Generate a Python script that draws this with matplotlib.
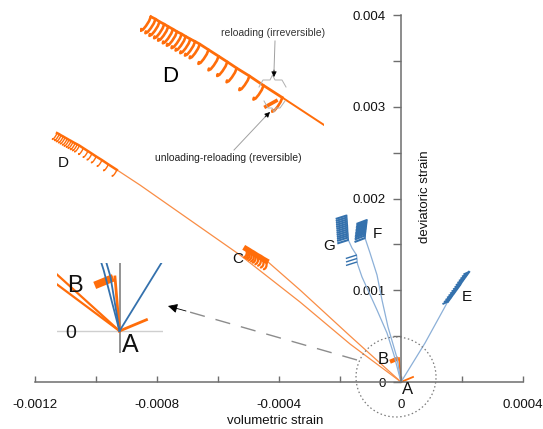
import matplotlib
matplotlib.use('Agg')
import matplotlib.pyplot as plt
from matplotlib.patches import Circle

plt.rcParams['font.family'] = ['Liberation Sans', 'DejaVu Sans']

# ------------------------------------------------------------------
# DATA  (volumetric strain, deviatoric strain)
# ------------------------------------------------------------------
# stress path to D (loading line, then cyclic part)
path_D_x = [0.0, -0.000167, -0.000331, -0.000528, -0.000856, -0.000931]
path_D_y = [0.0, 0.000414, 0.000872, 0.001385, 0.002148, 0.002312]
cycles_D_x = [-0.000932, -0.000960, -0.000981, -0.001000, -0.001014, -0.001027,
              -0.001042, -0.001055, -0.001062, -0.001069, -0.001076, -0.001082,
              -0.001089, -0.001095, -0.001102, -0.001108, -0.001115, -0.001121,
              -0.001128]
cycles_D_y = [0.002314, 0.002374, 0.002421, 0.002460, 0.002491, 0.002519,
              0.002551, 0.002579, 0.002592, 0.002604, 0.002617, 0.002629,
              0.002641, 0.002653, 0.002666, 0.002678, 0.002690, 0.002703,
              0.002715]
reversible_D_x = [-0.000959, -0.000939]
reversible_D_y = [0.002265, 0.002302]

# stress path to C
path_C_x = [0.0, -0.000167, -0.000331, -0.000436]
path_C_y = [0.0, 0.000502, 0.001003, 0.001309]
cycles_C_x = [-0.000443, -0.000453, -0.000462, -0.000471, -0.000479,
              -0.000485, -0.000492, -0.000498, -0.000503, -0.000508]
cycles_C_y = [0.001322, 0.001341, 0.001361, 0.001377, 0.001394,
              0.001407, 0.001420, 0.001433, 0.001443, 0.001453]

# stress path to B
path_B_x = [0.0, -0.0000066]
path_B_y = [0.0, 0.000262]
cycles_B_x = [-0.0000361, -0.0000089]
cycles_B_y = [0.000221, 0.000258]

# short extension path
path_ext_x = [0.0, 0.0000393]
path_ext_y = [0.0, 0.0000545]

# stress path to E
path_E_x = [0.0, 0.0000787, 0.000151]
path_E_y = [0.0, 0.000425, 0.000862]
cycles_E_x = [0.000154, 0.000159, 0.000164, 0.000169, 0.000174, 0.000179,
              0.000184, 0.000189, 0.000194, 0.000198, 0.000203, 0.000208,
              0.000213, 0.000218, 0.000223]
cycles_E_y = [0.000877, 0.000900, 0.000923, 0.000947, 0.000969, 0.000992,
              0.001015, 0.001038, 0.001061, 0.001084, 0.001108, 0.001131,
              0.001154, 0.001177, 0.001200]

# stress path to F
path_F_x = [0.0, -0.0000131, -0.0000426, -0.0000623, -0.0000787, -0.0001016, -0.000118]
path_F_y = [0.0, 0.000262, 0.000600, 0.000894, 0.001167, 0.001407, 0.001570]
cycles_F_x = [-0.0001180, -0.0001173, -0.0001167, -0.0001160, -0.0001155, -0.0001149,
              -0.0001143, -0.0001137, -0.0001131, -0.0001125, -0.0001120, -0.0001115]
cycles_F_y = [0.001570, 0.001598, 0.001619, 0.001636, 0.001652, 0.001668,
              0.001685, 0.001701, 0.001718, 0.001734, 0.001750, 0.001767]

# stress path to G
path_G_x = [0.0, -0.000023, -0.0000459, -0.0000787, -0.0001279, -0.0001426,
            -0.0001459, -0.0001607, -0.0001728]
path_G_y = [0.0, 0.000294, 0.000534, 0.000785, 0.001145, 0.001287,
            0.001385, 0.001461, 0.001549]
cycles_G1_x = [-0.0001443, -0.0001443, -0.0001449]
cycles_G1_y = [0.001309, 0.001347, 0.001385]
cycles_G2_x = [-0.0001728, -0.0001735, -0.0001738, -0.0001741, -0.0001748, -0.0001751,
               -0.0001754, -0.0001757, -0.0001764, -0.0001767, -0.0001771, -0.0001777,
               -0.0001780]
cycles_G2_y = [0.001549, 0.001576, 0.001598, 0.001619, 0.001641, 0.001663,
               0.001685, 0.001707, 0.001728, 0.001750, 0.001772, 0.001794,
               0.001816]

x_ticks = [-0.0012, -0.0008, -0.0004, 0.0, 0.0004]
x_ticklabels = ['-0.0012', '-0.0008', '-0.0004', '0', '0.0004']
x_minor = [-0.0010, -0.0006, -0.0002, 0.0002]
y_ticks = [0.0, 0.001, 0.002, 0.003, 0.004]
y_ticklabels = ['0', '0.001', '0.002', '0.003', '0.004']
y_minor = [0.0005, 0.0015, 0.0025, 0.0035]

# ------------------------------------------------------------------
# STYLE / LAYOUT
# ------------------------------------------------------------------
W, H = 543, 429
ORANGE_L = '#f98d45'
ORANGE = '#ff6d0a'
BLUE_L = '#8cb0d8'
BLUE = '#3471ad'
AXC = '#6e6e6e'

fig = plt.figure(figsize=(W / 100, H / 100), dpi=100)
ax = fig.add_axes([0, 0, 1, 1])
XL = (-0.0013149, 0.0004656)
YL = (-0.0005125, 0.0041657)
ax.set_xlim(*XL)
ax.set_ylim(*YL)
ax.patch.set_alpha(0)
xpp = (XL[1] - XL[0]) / W   # data per pixel
ypp = (YL[1] - YL[0]) / H

# cycle shapes (pixel offsets -> data units)
hook_px = [(0, 0), (-0.8, 2.0), (-2.2, 4.2), (-3.6, 5.9), (-4.6, 6.4), (-4.4, 5.6)]
hook = [(dx * xpp, -dy * ypp) for dx, dy in hook_px]
hookC_px = [(0, 0), (0.8, 2.5), (0.5, 5.5), (-0.5, 7.5), (-2.0, 8.5)]
hookC = [(dx * xpp, -dy * ypp) for dx, dy in hookC_px]
vec_E = (-5.5 * xpp, -2.5 * ypp)
vec_F = (-10.5 * xpp, -4.0 * ypp)
vec_G = (-11.0 * xpp, -3.5 * ypp)

for s in ['top', 'right']:
    ax.spines[s].set_visible(False)
ax.spines['bottom'].set_position(('data', 0))
ax.spines['bottom'].set_bounds(-0.0012, 0.0004)
ax.spines['left'].set_position(('data', 0))
ax.spines['left'].set_bounds(0, 0.004)
for s in ['bottom', 'left']:
    ax.spines[s].set_color(AXC)
    ax.spines[s].set_linewidth(1.1)
ax.set_xticks(x_ticks)
ax.set_xticklabels(x_ticklabels)
ax.set_xticks(x_minor, minor=True)
ax.set_yticks(y_ticks)
ax.set_yticklabels(y_ticklabels)
ax.set_yticks(y_minor, minor=True)
ax.tick_params(axis='x', which='both', direction='in', length=4.5, width=1,
               color=AXC, pad=12.5, labelsize=9.5, labelcolor='#111')
ax.tick_params(axis='y', which='both', direction='out', length=6, width=1,
               color=AXC, pad=5, labelsize=9.5, labelcolor='#111')


def draw_hooks(a, xs, ys, shape, color, lw):
    for x, y in zip(xs, ys):
        a.plot([x + d[0] for d in shape], [y + d[1] for d in shape],
               color=color, lw=lw, solid_capstyle='round', solid_joinstyle='round')


def draw_cycles(a, xs, ys, vec, color, lw):
    for x, y in zip(xs, ys):
        a.plot([x, x + vec[0]], [y, y + vec[1]], color=color, lw=lw,
               solid_capstyle='butt')


# orange paths
ax.plot(path_D_x, path_D_y, color=ORANGE_L, lw=0.9)
ax.plot(path_C_x, path_C_y, color=ORANGE_L, lw=0.9)
ax.plot(path_B_x, path_B_y, color=ORANGE, lw=1.2)
ax.plot(cycles_B_x, cycles_B_y, color=ORANGE, lw=3.0, solid_capstyle='butt')
ax.plot(path_ext_x, path_ext_y, color=ORANGE, lw=1.3)
ax.plot(cycles_D_x, cycles_D_y, color=ORANGE, lw=1.8)
draw_hooks(ax, cycles_D_x, cycles_D_y, hook, ORANGE, 1.0)
ax.plot(cycles_C_x, cycles_C_y, color=ORANGE, lw=4.0)
draw_hooks(ax, cycles_C_x, cycles_C_y, hookC, ORANGE, 1.6)
# blue paths
ax.plot(path_E_x, path_E_y, color=BLUE_L, lw=0.9)
ax.plot(path_F_x, path_F_y, color=BLUE_L, lw=0.9)
ax.plot(path_G_x, path_G_y, color=BLUE_L, lw=0.9)
ax.plot(cycles_E_x, cycles_E_y, color=BLUE, lw=1.6)
draw_cycles(ax, cycles_E_x, cycles_E_y, vec_E, BLUE, 1.4)
ax.plot(cycles_F_x, cycles_F_y, color=BLUE, lw=1.0)
draw_cycles(ax, cycles_F_x, cycles_F_y, vec_F, BLUE, 1.5)
draw_cycles(ax, cycles_G1_x, cycles_G1_y, vec_G, BLUE, 1.0)
ax.plot(cycles_G2_x, cycles_G2_y, color=BLUE, lw=1.0)
draw_cycles(ax, cycles_G2_x, cycles_G2_y, vec_G, BLUE, 1.5)


def inset(box, center_px, center, mag):
    x0, y0, x1, y1 = box
    a = fig.add_axes([x0 / W, 1 - y1 / H, (x1 - x0) / W, (y1 - y0) / H])
    a.set_xlim(center[0] + (x0 - center_px[0]) * xpp / mag,
               center[0] + (x1 - center_px[0]) * xpp / mag)
    a.set_ylim(center[1] - (y1 - center_px[1]) * ypp / mag,
               center[1] - (y0 - center_px[1]) * ypp / mag)
    a.axis('off')
    return a


# magnified view of the origin (left)
axA = inset((57, 263, 163, 353), (119.5, 331), (0.0, 0.0), 2.25)
axA.axhline(0, color='#cfcfcf', lw=1.0)
axA.axvline(0, color='#8a8a8a', lw=1.3)
axA.plot(path_D_x, path_D_y, color=ORANGE, lw=1.6)
axA.plot(path_C_x, path_C_y, color=ORANGE, lw=1.6)
axA.plot(path_B_x, path_B_y, color=ORANGE, lw=2.0)
axA.plot(cycles_B_x, cycles_B_y, color=ORANGE, lw=5.5, solid_capstyle='butt')
axA.plot(path_ext_x, path_ext_y, color=ORANGE, lw=2.0)
axA.plot(path_E_x, path_E_y, color=BLUE, lw=1.3)
axA.plot(path_F_x, path_F_y, color=BLUE, lw=1.3)
axA.plot(path_G_x, path_G_y, color=BLUE, lw=1.3)

# magnified view of D (top)
axD = inset((140, 14, 324, 140), (283, 98), (path_D_x[-1], path_D_y[-1]), 2.2)
axD.plot(path_D_x, path_D_y, color=ORANGE, lw=1.4)
axD.plot(cycles_D_x, cycles_D_y, color=ORANGE, lw=2.0)
draw_hooks(axD, cycles_D_x, cycles_D_y, hook, ORANGE, 1.9)
axD.plot(reversible_D_x, reversible_D_y, color=ORANGE, lw=2.6, solid_capstyle='butt')

# ------------------------------------------------------------------
# overlay (annotations, labels) in pixel coordinates
# ------------------------------------------------------------------
ov = fig.add_axes([0, 0, 1, 1])
ov.set_xlim(0, W)
ov.set_ylim(H, 0)
ov.axis('off')

ov.add_patch(Circle((396, 377), 40, fill=False, ec='#7a7a7a', lw=0.9,
                    ls=(0, (1.2, 2.0))))
ov.plot([357, 186], [360, 311], color='#8c8c8c', lw=1.0, dashes=(11, 8))
ov.annotate('', xy=(168, 306), xytext=(186, 311),
            arrowprops=dict(arrowstyle='-|>', color='black', lw=0.6,
                            mutation_scale=14, shrinkA=0, shrinkB=0))

# annotation arrows of the D close-up
ov.plot([275, 274], [41, 71], color='#a0a0a0', lw=0.7)
ov.annotate('', xy=(274, 77), xytext=(274, 70),
            arrowprops=dict(arrowstyle='-|>', color='black', lw=0.5,
                            mutation_scale=8, shrinkA=0, shrinkB=0))
ov.plot([234, 266], [150, 116], color='#a0a0a0', lw=0.7)
ov.annotate('', xy=(270, 112), xytext=(265, 117),
            arrowprops=dict(arrowstyle='-|>', color='black', lw=0.5,
                            mutation_scale=8, shrinkA=0, shrinkB=0))
ov.plot([259, 263, 270, 272.5, 275, 282, 286], [87, 80, 80, 75, 80, 80, 87],
        color='#b0b0b0', lw=0.7)
ov.plot([264, 268, 272, 274, 276, 280, 285], [101, 108, 108, 112, 108, 108, 101],
        color='#b0b0b0', lw=0.7)

ov.text(273, 33, 'reloading (irreversible)', fontsize=7.5, ha='center', va='center', color='#333')
ov.text(228, 158, 'unloading-reloading (reversible)', fontsize=7.5, ha='center',
        va='center', color='#222')
ov.text(170, 76, 'D', fontsize=16, ha='center', va='center')

labels = [('A', 408, 390, 12), ('B', 383, 360, 12), ('C', 238, 259, 11),
          ('D', 63, 163, 11), ('E', 467, 297, 11), ('F', 377, 234, 11),
          ('G', 329, 246, 11), ('B', 75, 286, 17), ('A', 130, 345, 18),
          ('0', 71, 334, 14)]
for t, x, y, fs in labels:
    ov.text(x, y, t, fontsize=fs, ha='center', va='center', color='#111')

ov.text(275, 421, 'volumetric strain', fontsize=9.5, ha='center', va='center', color='#111')
ov.text(425, 197, 'deviatoric strain', fontsize=9.5, ha='center', va='center',
        rotation=90, color='#111')

fig.savefig('out.png', dpi=100)
